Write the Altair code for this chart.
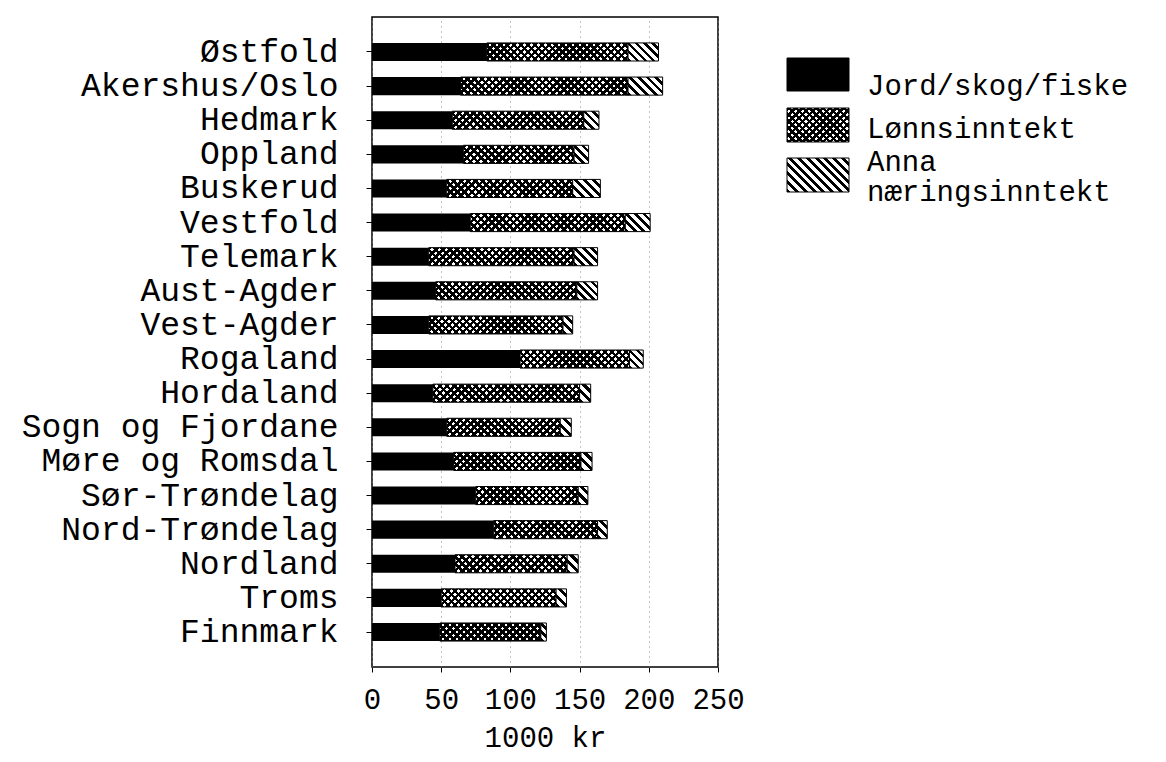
import math
import altair as alt

# ---------------- data (in 1000 kr) ----------------
regions = ["Østfold", "Akershus/Oslo", "Hedmark", "Oppland", "Buskerud",
           "Vestfold", "Telemark", "Aust-Agder", "Vest-Agder", "Rogaland",
           "Hordaland", "Sogn og Fjordane", "Møre og Romsdal", "Sør-Trøndelag",
           "Nord-Trøndelag", "Nordland", "Troms", "Finnmark"]
jord = [83, 64, 58, 66, 54, 71, 41, 46, 41, 107, 44, 54, 59, 75, 88, 60, 50, 49]
lonn = [102, 121, 95, 80, 91, 112, 105, 102, 97, 79, 106, 82, 92, 74, 75, 81, 83, 73]
anna = [22, 25, 11, 10.5, 20, 18, 17, 15, 7, 10, 8, 8, 8, 7, 7, 8, 7.5, 4]
series_labels = ["Jord/skog/fiske", "Lønnsinntekt", "Anna\nnæringsinntekt"]
x_ticks = [0, 50, 100, 150, 200, 250]
x_title = "1000 kr"

# ---------------- layout / style ----------------
W_PLOT, H_PLOT = 346, 650
X_MAX = 250
PAD_IN, PAD_OUT = 0.47, 0.76
PX = W_PLOT / X_MAX
STEP = H_PLOT / (len(regions) - PAD_IN + 2 * PAD_OUT)
BAR_H = STEP * (1 - PAD_IN)
FONT = "Courier New, Liberation Mono, monospace"
CLEAR = "rgba(255,255,255,0)"


def stripes(w, h, pitch, frac, back, rising):
    """Linear gradient that draws 45-degree black stripes over a w x h box."""
    w = max(w, 1.0)
    s = w * w + h * h
    k = (w + h) / s
    if rising:   # '/' stripes
        x1, y1, x2, y2 = 0, 0, w * k, h * k
    else:        # '\' stripes
        x1, y1, x2, y2 = 0, 1, w * k, 1 - h * k
    n = max(1, round((w + h) / (math.sqrt(2) * pitch)))
    stops = []
    for i in range(n):
        a = round(i / n, 5)
        b = round((i + frac) / n, 5)
        c = round((i + 1) / n, 5)
        stops += [{"offset": a, "color": "black"}, {"offset": b, "color": "black"},
                  {"offset": b, "color": back}, {"offset": c, "color": back}]
    return {"gradient": "linear", "x1": x1, "y1": y1, "x2": x2, "y2": y2,
            "stops": stops}


records = []
for r, a, b, c in zip(regions, jord, lonn, anna):
    records.append({"region": r, "seg": "jord", "x0": 0, "x1": a})
    records.append({"region": r, "seg": "lonn", "x0": a, "x1": a + b,
                    "g1": stripes(b * PX, BAR_H, 5, 0.5, "white", False),
                    "g2": stripes(b * PX, BAR_H, 5, 0.5, CLEAR, True)})
    records.append({"region": r, "seg": "anna", "x0": a + b, "x1": a + b + c,
                    "g1": stripes(c * PX, BAR_H, 6, 0.45, "white", False)})

bar_data = alt.InlineData(values=records)

X = alt.X("x0:Q",
          scale=alt.Scale(domain=[0, X_MAX], nice=False),
          axis=alt.Axis(values=x_ticks, title=x_title, grid=True,
                        gridDash=[1, 4], gridColor="#888888", gridWidth=1,
                        domain=False, tickSize=5, tickColor="black",
                        labelFont=FONT, labelFontSize=29, labelColor="black",
                        labelBaseline="alphabetic", labelPadding=36,
                        labelFlush=False, labelOverlap=False,
                        titleFont=FONT, titleFontSize=29, titleFontWeight="normal",
                        titleColor="black", titleBaseline="alphabetic", titleY=79))
Y = alt.Y("region:N", sort=regions,
          scale=alt.Scale(paddingInner=PAD_IN, paddingOuter=PAD_OUT),
          axis=alt.Axis(title=None, domain=False, tickSize=6, tickColor="black",
                        labelFont=FONT, labelFontSize=33, labelColor="black",
                        labelPadding=28, labelLimit=500))

base = alt.Chart(bar_data)

black_bars = base.transform_filter(alt.datum.seg == "jord").mark_bar(
    color="black").encode(x=X, x2="x1:Q", y=Y)

lonn_a = base.transform_filter(alt.datum.seg == "lonn").mark_bar(
    strokeWidth=0).encode(x=X, x2="x1:Q", y=Y,
                          fill=alt.Fill("g1:N", scale=None))
lonn_b = base.transform_filter(alt.datum.seg == "lonn").mark_bar(
    stroke="black", strokeWidth=1).encode(x=X, x2="x1:Q", y=Y,
                                          fill=alt.Fill("g2:N", scale=None))
anna_bars = base.transform_filter(alt.datum.seg == "anna").mark_bar(
    stroke="black", strokeWidth=1).encode(x=X, x2="x1:Q", y=Y,
                                          fill=alt.Fill("g1:N", scale=None))

# ---------------- legend (drawn by hand) ----------------
SW_X0, SW_X1 = 415, 477
SW_W = SW_X1 - SW_X0
sw_rows = [(41, 74), (91, 125), (141, 175)]
txt_y = [78, 121, 154]
one = alt.InlineData(values=[{"k": 0}])


def swatch(rows, fill):
    y0, y1 = rows
    return alt.Chart(one).mark_rect(fill=fill, stroke="black", strokeWidth=1).encode(
        x=alt.value(SW_X0), x2=alt.value(SW_X1), y=alt.value(y0), y2=alt.value(y1))


def swatch_over(rows, fill):
    y0, y1 = rows
    return alt.Chart(one).mark_rect(fill=fill, strokeWidth=0).encode(
        x=alt.value(SW_X0), x2=alt.value(SW_X1), y=alt.value(y0), y2=alt.value(y1))


h2 = sw_rows[1][1] - sw_rows[1][0]
h3 = sw_rows[2][1] - sw_rows[2][0]
leg = [
    swatch(sw_rows[0], "black"),
    swatch_over(sw_rows[1], stripes(SW_W, h2, 5, 0.5, "white", False)),
    swatch(sw_rows[1], stripes(SW_W, h2, 5, 0.5, CLEAR, True)),
    swatch(sw_rows[2], stripes(SW_W, h3, 6, 0.45, "white", False)),
]
for lab, yy in zip(series_labels, txt_y):
    leg.append(alt.Chart(one).mark_text(
        text=lab, font=FONT, fontSize=29, align="left", baseline="alphabetic",
        lineBreak="\n", lineHeight=30, color="black").encode(
        x=alt.value(495), y=alt.value(yy)))

chart = alt.layer(black_bars, lonn_a, lonn_b, anna_bars, *leg).properties(
    width=W_PLOT, height=H_PLOT,
    padding={"left": 364, "top": 9, "right": 440, "bottom": 87},
    autosize=alt.AutoSizeParams(type="none"),
    background="white",
).configure_view(stroke="black", strokeWidth=1.5)

chart.save("out.html", embed_options={"renderer": "svg", "actions": False})
